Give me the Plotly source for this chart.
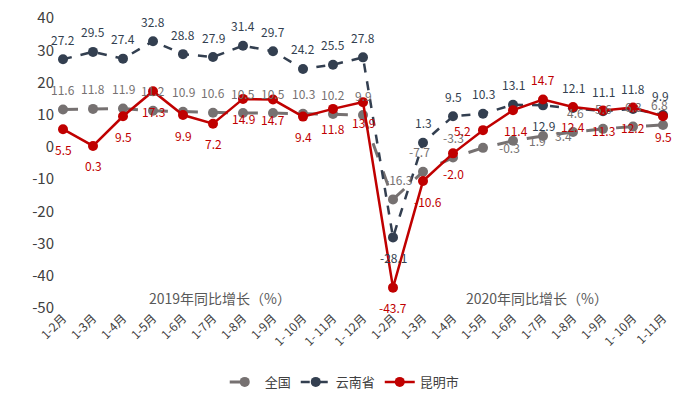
import plotly.graph_objects as go

categories = ["1-2月", "1-3月", "1-4月", "1-5月", "1-6月", "1-7月", "1-8月", "1-9月", "1- 10月", "1- 11月", "1- 12月",
              "1-2月", "1-3月", "1-4月", "1-5月", "1-6月", "1-7月", "1-8月", "1-9月", "1- 10月", "1-11月"]

national = [11.6, 11.8, 11.9, 11.2, 10.9, 10.6, 10.5, 10.5, 10.3, 10.2, 9.9,
            -16.3, -7.7, -3.3, -0.3, 1.9, 3.4, 4.6, 5.6, 6.3, 6.8]
yunnan = [27.2, 29.5, 27.4, 32.8, 28.8, 27.9, 31.4, 29.7, 24.2, 25.5, 27.8,
          -28.1, 1.3, 9.5, 10.3, 13.1, 12.9, 12.1, 11.1, 11.8, 9.9]
kunming = [5.5, 0.3, 9.5, 17.3, 9.9, 7.2, 14.9, 14.7, 9.4, 11.8, 13.9,
           -43.7, -10.6, -2.0, 5.2, 11.4, 14.7, 12.4, 11.3, 12.2, 9.5]

yticks = [40, 30, 20, 10, 0, -10, -20, -30, -40, -50]

x = list(range(len(categories)))

GRAY = "#767171"
NAVY = "#333F50"
RED = "#C00000"
FONT = "Noto Sans CJK SC, Microsoft YaHei, sans-serif"

# label offsets in pixels (styling only): (dx, dy) with dy positive = up
U, D = 20, -20
nat_off = [(0, U)] * 11 + [(5, U), (-4, U), (0, U), (26, 0), (24, 0), (20, 0), (2, U), (0, U), (0, U), (-4, U)]
yn_off = [(0, U)] * 11 + [(0, D), (0, U), (0, U), (0, U), (0, U), (0, D), (0, U), (0, U), (0, U), (-3, U)]
km_off = [(0, D)] * 11 + [(0, D), (5, D), (0, D), (-21, 0), (3, D), (0, U), (0, D), (0, D), (0, D), (0, D)]

fig = go.Figure()
series = [
    ("全国", national, GRAY, dict(color=GRAY, width=3, dash="longdash"), nat_off),
    ("云南省", yunnan, NAVY, dict(color=NAVY, width=2.5, dash="dash"), yn_off),
    ("昆明市", kunming, RED, dict(color=RED, width=2.5), km_off),
]
for name, vals, col, line, offs in series:
    fig.add_trace(go.Scatter(
        x=x, y=vals, name=name, mode="lines+markers",
        line=line, marker=dict(color=col, size=10),
    ))
for name, vals, col, line, offs in series:
    for xi, v, (dx, dy) in zip(x, vals, offs):
        fig.add_annotation(x=xi, y=v, text=f"{v:.1f}", showarrow=False,
                           xshift=dx, yshift=dy, xanchor="center", yanchor="middle",
                           font=dict(size=12, color=col, family=FONT))

fig.add_annotation(x=5.23, y=-47, text="2019年同比增长（%）", showarrow=False,
                   font=dict(size=14, color="#595959", family=FONT))
fig.add_annotation(x=15.8, y=-47, text="2020年同比增长（%）", showarrow=False,
                   font=dict(size=14, color="#595959", family=FONT))

fig.update_layout(
    width=687, height=399,
    margin=dict(l=48, r=9, t=18, b=91, autoexpand=False),
    plot_bgcolor="white", paper_bgcolor="white",
    font=dict(family=FONT, color="#595959"),
    showlegend=True,
    legend=dict(orientation="h", x=0.471, xanchor="center", y=-0.255, yanchor="middle",
                font=dict(size=13, color="#404040", family=FONT), itemwidth=30),
    xaxis=dict(range=[-0.5, len(categories) - 0.5], tickmode="array", tickvals=x, ticktext=categories,
               tickangle=-45, tickfont=dict(size=12, color="#404040"), showgrid=False, zeroline=False,
               showline=False, ticks="", automargin=False),
    yaxis=dict(range=[-50.02, 40.02], tickmode="array", tickvals=yticks, ticktext=[str(v) for v in yticks],
               tickfont=dict(size=15, color="#404040"), showgrid=False, zeroline=False, showline=False,
               ticks="", automargin=False, ticklabelstandoff=-7, ticklabeloverflow="allow"),
)

fig.write_html("out.html", config={"displayModeBar": False},
               post_script="document.body.style.margin='0';")
